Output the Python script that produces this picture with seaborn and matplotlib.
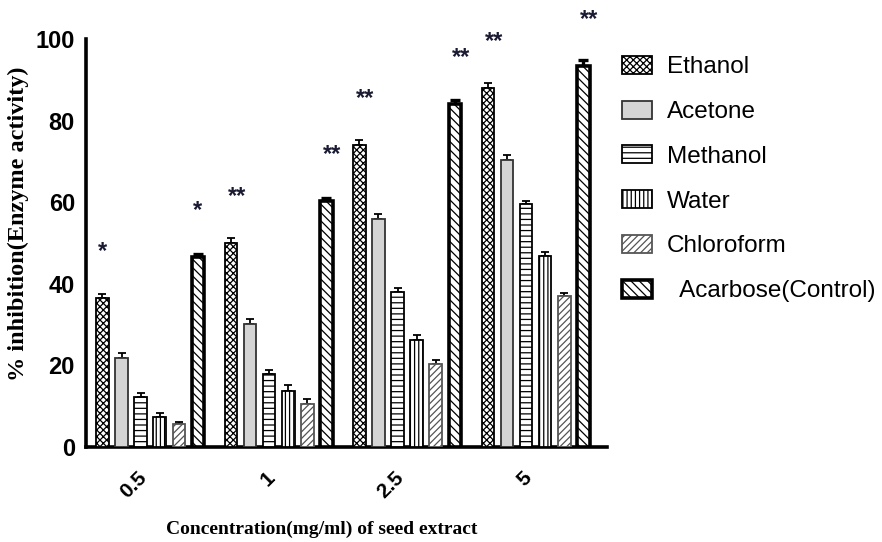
import numpy as np
import pandas as pd
import matplotlib
matplotlib.use("Agg")
import matplotlib.pyplot as plt
import seaborn as sns
from matplotlib.patches import Patch

# ---------------- data ----------------
concentrations = ["0.5", "1", "2.5", "5"]
solvents = ["Ethanol", "Acetone", "Methanol", "Water", "Chloroform", "Acarbose(Control)"]

ethanol = [36.5, 50.0, 74.0, 88.0]
acetone = [21.8, 30.2, 56.0, 70.3]
methanol = [12.3, 18.0, 38.0, 59.6]
water = [7.4, 13.8, 26.2, 46.8]
chloroform = [5.6, 10.5, 20.3, 36.9]
acarbose = [46.5, 60.2, 84.0, 93.3]

ethanol_err = [1.0, 1.2, 1.2, 1.2]
acetone_err = [1.3, 1.2, 1.2, 1.2]
methanol_err = [0.9, 0.8, 1.0, 0.8]
water_err = [1.0, 1.3, 1.2, 1.0]
chloroform_err = [0.5, 1.2, 1.0, 0.9]
acarbose_err = [0.8, 0.8, 1.0, 1.5]

ethanol_sig = ["*", "**", "**", "**"]
acarbose_sig = ["*", "**", "**", "**"]

values = [ethanol, acetone, methanol, water, chloroform, acarbose]
errors = [ethanol_err, acetone_err, methanol_err, water_err, chloroform_err, acarbose_err]
signif = {0: ethanol_sig, 5: acarbose_sig}

df = pd.DataFrame({
    "conc": [c for s in solvents for c in concentrations],
    "solvent": [s for s in solvents for _ in concentrations],
    "value": [v for vals in values for v in vals],
})

# ---------------- styles ----------------
face_colors = ["white", "#d4d4d4", "white", "white", "white", "white"]
edge_colors = ["black", "#333333", "black", "black", "#555555", "black"]
hatches = ["xxxxx", "", "---", "||||", "/////", "\\\\\\\\"]
line_widths = [1.3, 1.3, 1.3, 1.3, 1.3, 2.6]

sns.set_style("white")
plt.rcParams["hatch.linewidth"] = 0.9
plt.rcParams["font.family"] = ["Liberation Sans", "DejaVu Sans"]
for key in ["text.color", "axes.labelcolor", "xtick.color", "ytick.color"]:
    plt.rcParams[key] = "black"

fig = plt.figure(figsize=(8.82, 5.42), dpi=100)
ax_left, ax_right, ax_top, ax_bottom = 86, 607, 39, 447
ax = fig.add_axes([ax_left / 882, 1 - ax_bottom / 542,
                   (ax_right - ax_left) / 882, (ax_bottom - ax_top) / 542])

sns.barplot(data=df, x="conc", y="value", hue="solvent", order=concentrations,
            hue_order=solvents, palette=face_colors, width=0.892, gap=0.34,
            errorbar=None, legend=False, ax=ax, saturation=1)

bar_containers = list(ax.containers)
for i, cont in enumerate(bar_containers):
    xs, hs = [], []
    for p in cont.patches:
        p.set_facecolor(face_colors[i])
        p.set_edgecolor(edge_colors[i])
        p.set_hatch(hatches[i])
        p.set_linewidth(line_widths[i])
        p.set_zorder(3)
        xs.append(p.get_x() + p.get_width() / 2)
        hs.append(p.get_height())
    lw = 2.4 if i == 5 else 1.3
    cs = 3.4 if i == 5 else 2.8
    ax.errorbar(xs, hs, yerr=[np.zeros(len(hs)), errors[i]], fmt="none",
                ecolor="black", elinewidth=lw, capsize=cs, capthick=lw, zorder=2)
    if i in signif:
        for x, h, s in zip(xs, hs, signif[i]):
            ax.text(x + (0.045 if len(s) == 2 else 0), h + 11.5, s, ha="center", va="center",
                    fontsize=17, fontweight="bold", color="#1a1a33", clip_on=False)

ax.set_ylim(0, 100)
ax.set_xlim(-0.5, 3.556)
ax.set_yticks([0, 20, 40, 60, 80, 100])
ax.set_yticklabels(["0", "20", "40", "60", "80", "100"], fontsize=17, fontweight="bold")
ax.set_xticks(range(len(concentrations)))
ax.set_xticklabels(concentrations, fontsize=15, fontweight="bold", rotation=45, ha="right")
ax.tick_params(axis="both", direction="out", length=6, width=2, color="black",
               labelcolor="black")
ax.tick_params(axis="x", pad=9)
ax.tick_params(axis="y", pad=2)

for side in ["top", "right"]:
    ax.spines[side].set_visible(False)
for side in ["left", "bottom"]:
    ax.spines[side].set_linewidth(2.6)
    ax.spines[side].set_color("black")

ax.set_xlabel("Concentration(mg/ml) of seed extract", family=["Liberation Serif", "DejaVu Serif"],
              fontsize=14, fontweight="bold", color="black")
ax.xaxis.set_label_coords((322 - ax_left) / (ax_right - ax_left), -(521 - ax_bottom) / (ax_bottom - ax_top))
ax.set_ylabel("% inhibition(Enzyme activity)", family=["Liberation Serif", "DejaVu Serif"],
              fontsize=17.5, fontweight="bold", color="black")
ax.yaxis.set_label_coords(-(ax_left - 29) / (ax_right - ax_left), (ax_bottom - 224) / (ax_bottom - ax_top))

handles = [Patch(facecolor=face_colors[i], edgecolor=edge_colors[i], hatch=hatches[i],
                 linewidth=line_widths[i]) for i in range(len(solvents))]
labels = solvents[:5] + ["  " + solvents[5]]
leg = fig.legend(handles, labels, loc="upper left", bbox_to_anchor=(622 / 882, 1 - 56 / 542),
                 frameon=False, fontsize=17.5, handlelength=1.23, handleheight=0.75,
                 handletextpad=0.62, labelspacing=0.92, borderpad=0, borderaxespad=0)
for t in leg.get_texts():
    t.set_color("black")

fig.savefig("out.png", dpi=100)
